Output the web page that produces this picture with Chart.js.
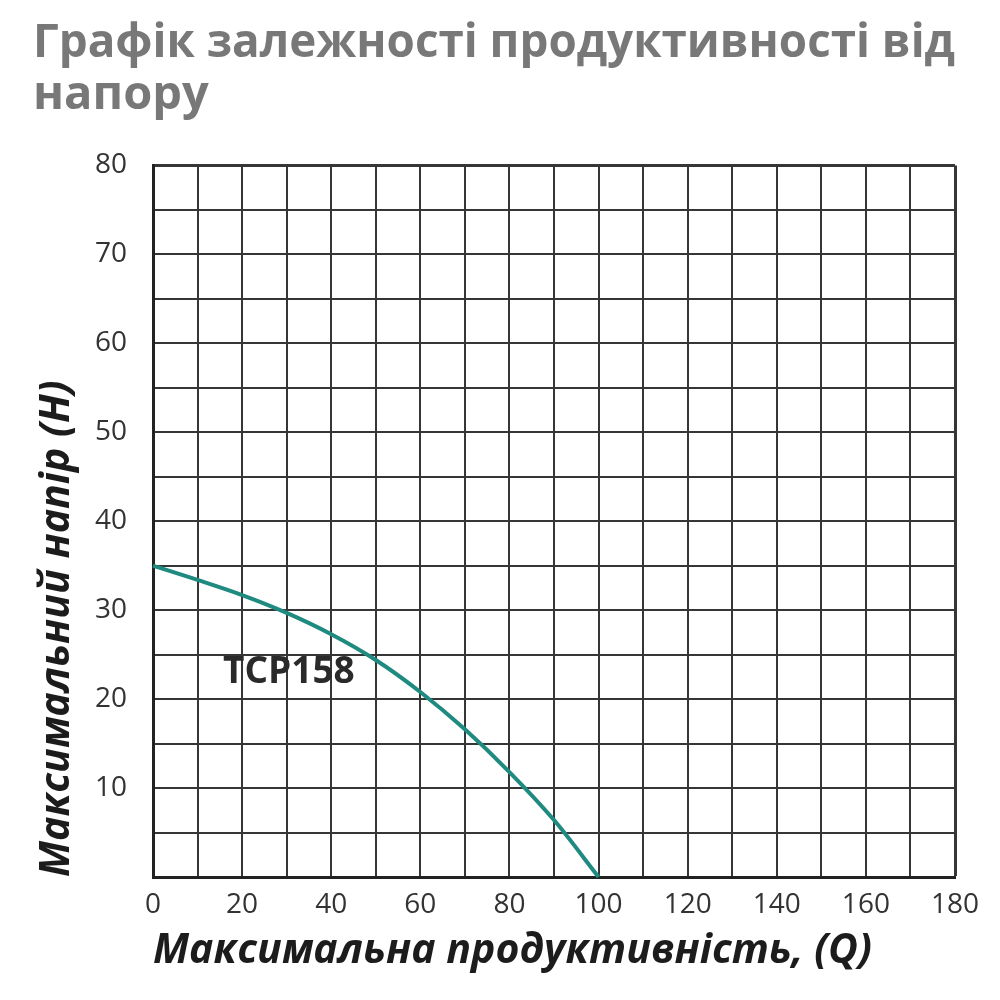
<!DOCTYPE html>
<html>
<head>
<meta charset="utf-8">
<script src="https://cdn.jsdelivr.net/npm/chart.js@4"></script>
<style>
  html, body { margin: 0; padding: 0; background: #fff; }
  #wrap { width: 1000px; height: 1000px; position: relative; }
</style>
</head>
<body>
<div id="wrap"><canvas id="c"></canvas></div>
<script>
// ---- data ----
const titleLines = ["Графік залежності продуктивності від", "напору"];
const xAxisTitle = "Максимальна продуктивність, (Q)";
const yAxisTitle = "Максимальний напір (H)";
const seriesName = "TCP158";
const flowQ = [0, 10, 20, 30, 40, 50, 60, 70, 80, 90, 100];
const headH = [35, 33.4, 31.7, 29.7, 27.3, 24.4, 20.8, 16.6, 11.8, 6.4, 0];
const xRange = [0, 180];
const yRange = [0, 80];
const xLabelStep = 20;
const yLabelStep = 10;
const labelAnchor = { x: 30.5, y: 23 };

const points = flowQ.map((q, i) => ({ x: q, y: headH[i] }));

const seriesLabelPlugin = {
  id: 'seriesLabel',
  afterDatasetsDraw(chart) {
    const { ctx, scales } = chart;
    const px = scales.x.getPixelForValue(labelAnchor.x);
    const py = scales.y.getPixelForValue(labelAnchor.y);
    ctx.save();
    ctx.font = "bold 37px 'Open Sans'";
    ctx.fillStyle = '#2a2a2a';
    ctx.textAlign = 'center';
    ctx.textBaseline = 'middle';
    ctx.fillText(seriesName, px, py);
    ctx.restore();
  }
};

const gridColor = '#363636';

new Chart(document.getElementById('c'), {
  type: 'scatter',
  data: {
    datasets: [{
      label: seriesName,
      data: points,
      showLine: true,
      borderColor: '#1e8a80',
      backgroundColor: '#1e8a80',
      borderWidth: 4,
      pointRadius: 0,
      cubicInterpolationMode: 'monotone',
      clip: false
    }]
  },
  options: {
    responsive: true,
    maintainAspectRatio: false,
    animation: false,
    devicePixelRatio: 1,
    layout: { padding: { left: 33, right: 45, top: 18, bottom: 20 } },
    plugins: {
      legend: { display: false },
      tooltip: { enabled: false },
      title: {
        display: true,
        text: titleLines,
        align: 'start',
        color: '#787878',
        font: { family: "'Open Sans'", size: 47, weight: 'bold', lineHeight: 1.1 },
        padding: { top: 0, bottom: 44 }
      }
    },
    scales: {
      x: {
        type: 'linear',
        min: xRange[0],
        max: xRange[1],
        afterFit(scale) { scale.height = 103; },
        ticks: {
          stepSize: 10,
          autoSkip: false,
          maxRotation: 0,
          padding: 11,
          color: '#333',
          font: { family: "'Open Sans'", size: 28 },
          callback: v => (v % xLabelStep === 0 ? String(v) : '')
        },
        grid: {
          color: gridColor,
          lineWidth: c => (c.tick && c.tick.value === xRange[1] ? 3 : 2),
          drawTicks: false
        },
        border: { display: true, color: '#222', width: 3 },
        title: {
          display: true,
          text: xAxisTitle,
          align: 'start',
          color: '#1c1c1c',
          font: { family: "'Open Sans'", size: 41, weight: 'bold', style: 'italic', lineHeight: 1.2 },
          padding: { top: 4, bottom: 4 }
        }
      },
      y: {
        type: 'linear',
        min: yRange[0],
        max: yRange[1],
        afterFit(scale) { scale.width = 120; },
        ticks: {
          stepSize: 5,
          autoSkip: false,
          padding: 26,
          color: '#333',
          font: { family: "'Open Sans'", size: 28 },
          callback: v => (v !== 0 && v % yLabelStep === 0 ? String(v) : '')
        },
        grid: {
          color: gridColor,
          lineWidth: c => (c.tick && c.tick.value === yRange[1] ? 3 : 2),
          drawTicks: false
        },
        border: { display: true, color: '#222', width: 3 },
        title: {
          display: true,
          text: yAxisTitle,
          align: 'start',
          color: '#1c1c1c',
          font: { family: "'Open Sans'", size: 41, weight: 'bold', style: 'italic', lineHeight: 1.2 },
          padding: { top: 0, bottom: 4 }
        }
      }
    }
  },
  plugins: [seriesLabelPlugin]
});
</script>
</body>
</html>
